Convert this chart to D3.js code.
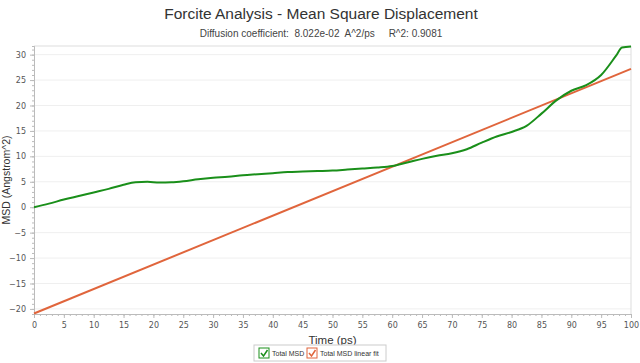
<!DOCTYPE html>
<html>
<head>
<meta charset="utf-8">
<script src="https://cdn.jsdelivr.net/npm/d3@7"></script>
<style>
  body { margin: 0; background: #fff; }
  svg { display: block; font-family: "Liberation Sans", Arial, sans-serif; }
  .tick text { fill: #555; font-size: 8px; font-family: "DejaVu Sans", sans-serif; }
</style>
</head>
<body>
<svg id="chart"></svg>
<script>
const $svg = d3.select('#chart');

// data
const msdTime = [0, 2.5, 5, 7.5, 10, 12.5, 15, 17, 19, 21, 23, 25, 27.5, 30, 32.5, 35, 37.5, 40, 42.5, 45, 47.5, 50,
	52.5, 55, 57.5, 60, 62.5, 65, 67.5, 70, 72.5, 75, 77.5, 80, 82.5, 85, 87.5, 90, 92.5, 95, 97.5, 98.5, 100];
const msdValue = [0, 0.7, 1.5, 2.2, 2.9, 3.6, 4.4, 4.9, 5.0, 4.85, 4.9, 5.1, 5.5, 5.8, 6.0, 6.3, 6.5, 6.7, 6.9, 7.0, 7.1, 7.2,
	7.4, 7.6, 7.8, 8.1, 8.8, 9.5, 10.1, 10.6, 11.4, 12.7, 13.9, 14.8, 16.0, 18.4, 21.0, 22.9, 24.0, 26.0, 29.8, 31.4, 31.6];
const fitTime = [0, 100];
const fitValue = [-20.9, 27.2];
const xTicks = d3.range(0, 101, 5);
const yTicks = [-20, -15, -10, -5, 0, 5, 10, 15, 20, 25, 30];
const seriesNames = ['Total MSD', 'Total MSD linear fit'];
const seriesColors = ['#1a8f1a', '#e0653c'];

// dimensions
const W = 640, H = 363;
const margin = {top: 46, bottom: 49, left: 34, right: 9};
const width = W - margin.left - margin.right;
const height = H - margin.top - margin.bottom;

$svg.attr('width', W).attr('height', H);

// scales
const scaleX = d3.scaleLinear().domain([0, 100]).range([0, width]);
const scaleY = d3.scaleLinear().domain([-21, 31.7]).range([height, 0]);

// titles
$svg.append('text')
	.attr('x', W / 2 + 1).attr('y', 19)
	.attr('text-anchor', 'middle')
	.style('font-size', '15.5px').style('fill', '#333')
	.text('Forcite Analysis - Mean Square Displacement');

$svg.append('text')
	.attr('x', W / 2 + 1).attr('y', 37)
	.attr('text-anchor', 'middle')
	.style('font-size', '10px').style('fill', '#444')
	.attr('xml:space', 'preserve')
	.text('Diffusion coefficient:  8.022e-02  A^2/ps     R^2: 0.9081');

const $vis = $svg.append('g')
	.attr('transform', 'translate(' + margin.left + ',' + margin.top + ')');

// gridlines
$vis.append('g').selectAll('line')
	.data(yTicks)
	.enter().append('line')
	.attr('x1', 0).attr('x2', width)
	.attr('y1', d => scaleY(d)).attr('y2', d => scaleY(d))
	.attr('stroke', '#efefef');

// frame top and right
$vis.append('line').attr('x1', 0).attr('x2', width).attr('y1', 0).attr('y2', 0).attr('stroke', '#ddd');
$vis.append('line').attr('x1', width).attr('x2', width).attr('y1', 0).attr('y2', height).attr('stroke', '#ddd');

// minor ticks
$vis.append('g')
	.attr('transform', 'translate(0,' + height + ')')
	.call(d3.axisBottom(scaleX).ticks(100).tickSize(2).tickFormat(''))
	.call(g => g.selectAll('line, path').attr('stroke', '#bbb'));
$vis.append('g')
	.call(d3.axisLeft(scaleY).tickValues(d3.range(-21, 32, 1)).tickSize(2).tickFormat(''))
	.call(g => g.selectAll('line, path').attr('stroke', '#bbb'));

// major axes
$vis.append('g')
	.attr('transform', 'translate(0,' + height + ')')
	.call(d3.axisBottom(scaleX).tickValues(xTicks).tickSize(4).tickSizeOuter(0).tickPadding(4))
	.call(g => g.selectAll('line, path').attr('stroke', '#bbb'));
$vis.append('g')
	.call(d3.axisLeft(scaleY).tickValues(yTicks).tickSize(4).tickSizeOuter(0).tickPadding(4))
	.call(g => g.selectAll('line, path').attr('stroke', '#bbb'));

// axis titles
$vis.append('text')
	.attr('x', width / 2).attr('y', height + 30)
	.attr('text-anchor', 'middle')
	.style('font-size', '11.5px').style('fill', '#333')
	.text('Time (ps)');
$vis.append('text')
	.attr('transform', 'translate(' + (-24) + ',' + (height / 2) + ') rotate(-90)')
	.attr('text-anchor', 'middle')
	.style('font-size', '10.5px').style('fill', '#333')
	.text('MSD (Angstrom^2)');

// lines
const line = d3.line()
	.x(d => scaleX(d[0]))
	.y(d => scaleY(d[1]))
	.curve(d3.curveMonotoneX);

$vis.append('path')
	.datum(d3.zip(fitTime, fitValue))
	.attr('d', line)
	.attr('fill', 'none')
	.attr('stroke', seriesColors[1])
	.attr('stroke-width', 2);

$vis.append('path')
	.datum(d3.zip(msdTime, msdValue))
	.attr('d', line)
	.attr('fill', 'none')
	.attr('stroke', seriesColors[0])
	.attr('stroke-width', 2);

// legend
const $legend = $svg.append('g').attr('transform', 'translate(254,345)');
$legend.append('rect')
	.attr('width', 132).attr('height', 16)
	.attr('fill', '#fff').attr('stroke', '#ccc');
const legendX = [5, 53];
const $items = $legend.selectAll('.item')
	.data(seriesNames)
	.enter().append('g')
	.attr('class', 'item')
	.attr('transform', (d, i) => 'translate(' + legendX[i] + ',3)');
$items.append('rect')
	.attr('width', 10).attr('height', 10)
	.attr('fill', '#fff')
	.attr('stroke', (d, i) => seriesColors[i]);
$items.append('path')
	.attr('d', 'M2,5 L4.5,8 L8.5,2')
	.attr('fill', 'none')
	.attr('stroke', (d, i) => seriesColors[i])
	.attr('stroke-width', 1.5);
$items.append('text')
	.attr('x', 13).attr('y', 8)
	.style('font-size', '7px').style('fill', '#333')
	.text(d => d);
</script>
</body>
</html>
